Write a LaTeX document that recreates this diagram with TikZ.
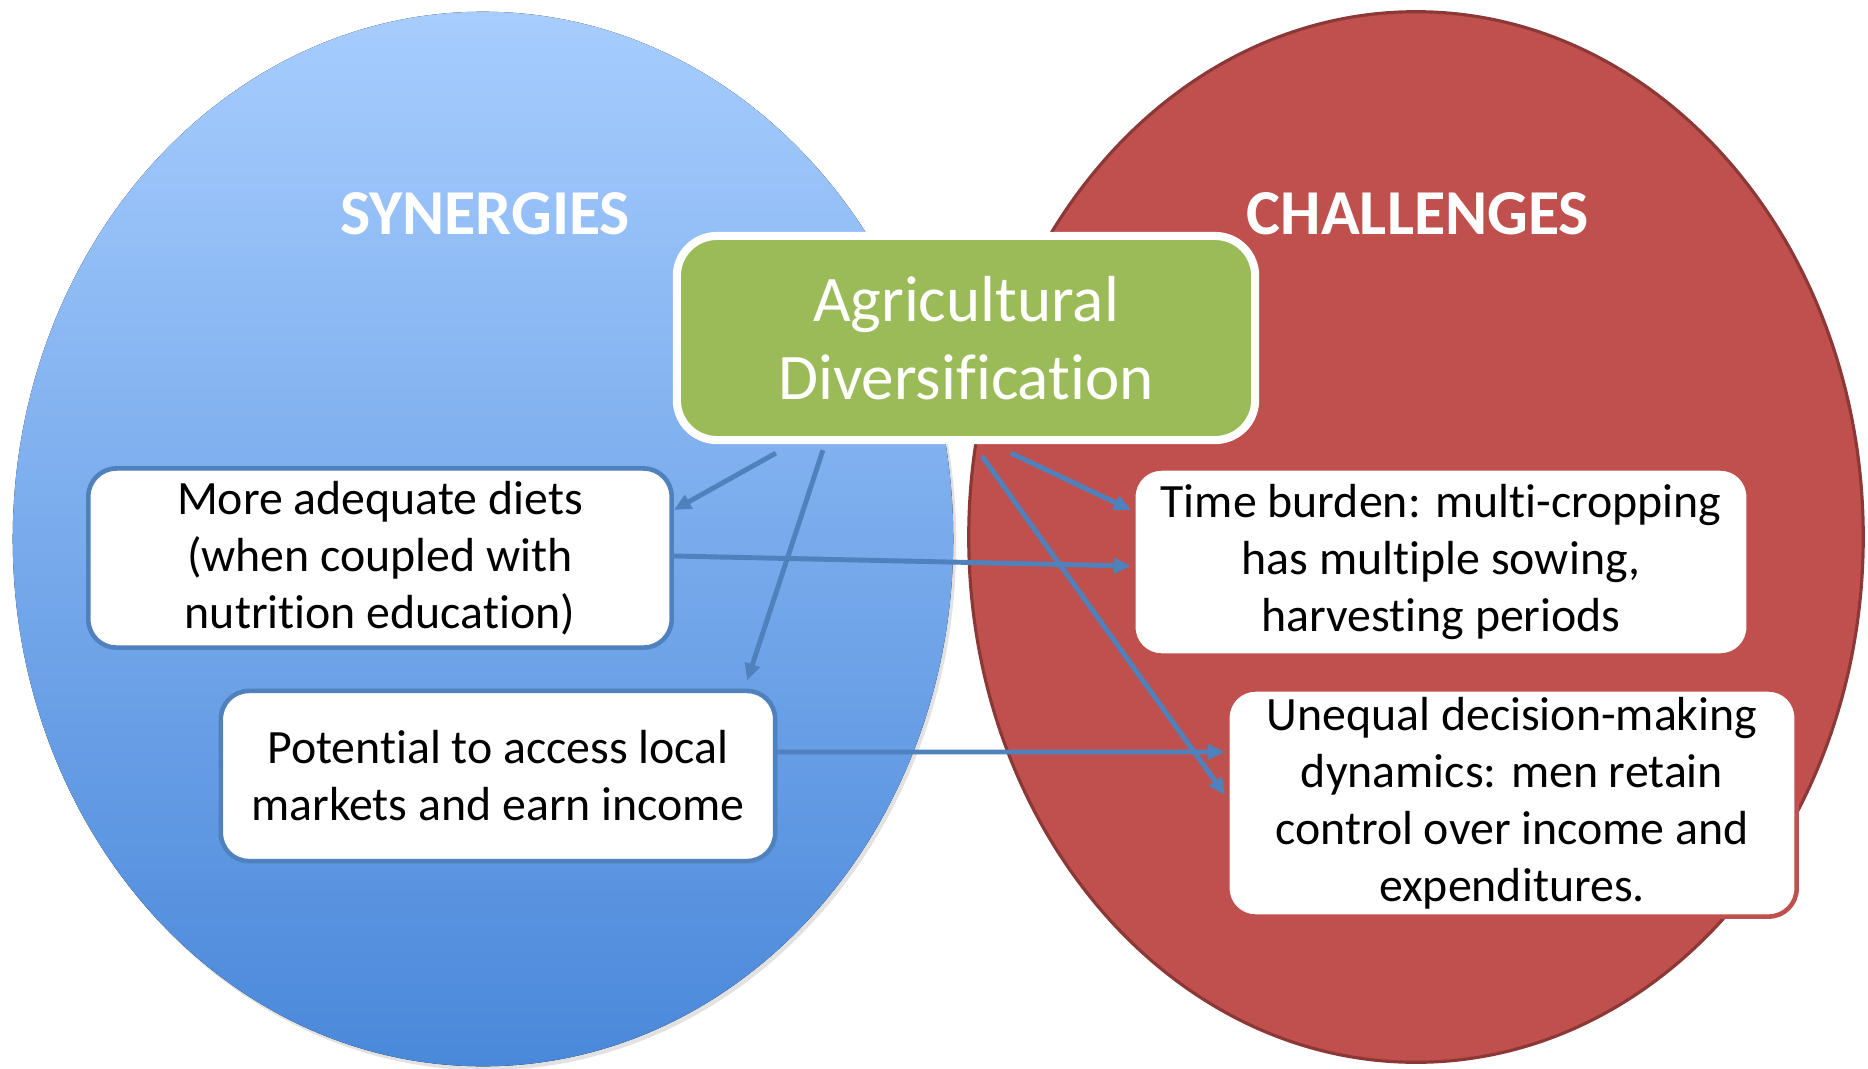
\documentclass[tikz,border=0pt]{standalone}
\usepackage{fontspec}
\setmainfont{Carlito}[RawFeature={-liga;-clig;-calt;-dlig;-rlig}]
\usetikzlibrary{arrows.meta}
\definecolor{skytop}{HTML}{A7CDFE}
\definecolor{skybot}{HTML}{4A88DA}
\definecolor{brick}{HTML}{C0504D}
\definecolor{brickdark}{HTML}{8C3836}
\definecolor{leaf}{HTML}{9BBB59}
\definecolor{steel}{HTML}{4F81BD}
\tikzset{every node/.style={inner sep=0pt, align=center}}
\tikzset{title/.style={text=white, font=\bfseries\fontsize{18.2}{20}\selectfont},
  synbox/.style={fill=white, draw=steel, line width=1.3pt, rounded corners=0.28cm, font=\fontsize{13.6}{16.2}\selectfont},
  chalbox/.style={synbox, draw=brick},
  link/.style={steel, line width=1.4pt, -{Triangle[length=0.17cm,width=0.15cm]}}}

\begin{document}
\begin{tikzpicture}[x=0.01cm,y=-0.01cm]
   \useasboundingbox (0,0) rectangle (1868,1069);
   % the two fields
   \fill[gray!45,opacity=0.5] (486,543) ellipse [x radius=4.70cm, y radius=5.27cm];
   \fill[top color=skytop, bottom color=skybot] (483,539) ellipse [x radius=4.70cm, y radius=5.27cm];
   \draw[brickdark, fill=brick, line width=0.9pt] (1416,537) ellipse [x radius=4.47cm, y radius=5.25cm];
   \node[title] (syn) at (485,214) {SYNERGIES};
   \node[title] (chal) at (1418,214) {CHALLENGES};
   % centre box
   \node[fill=leaf, draw=white, line width=2.3pt, rounded corners=0.4cm,
         minimum width=5.78cm, minimum height=2.04cm, text=white,
         font=\fontsize{18.5}{22.2}\selectfont] (agri) at (966,338) {Agricultural\\Diversification};
   % synergies
   \node[synbox, minimum width=5.83cm, minimum height=1.79cm] (diets) at (380,558)
        {More adequate diets\\(when coupled with\\nutrition education)};
   \node[synbox, minimum width=5.54cm, minimum height=1.70cm] (market) at (498,776)
        {Potential to access local\\markets and earn income};
   % challenges
   \node[chalbox, minimum width=6.15cm, minimum height=1.87cm] (time) at (1441,562)
        {Time burden: multi-cropping\\has multiple sowing,\\harvesting periods};
   \node[chalbox, minimum width=5.69cm, minimum height=2.27cm] (unequal) at (1512,803)
        {Unequal decision-making\\dynamics: men retain\\control over income and\\expenditures.};
   % links
   \draw[link] ([xshift=-1.9cm,yshift=-0.09cm]agri.south) -- ([yshift=0.48cm]diets.east);
   \draw[link] ([xshift=-1.43cm,yshift=-0.06cm]agri.south) -- ([xshift=2.49cm,yshift=0.08cm]market.north);
   \draw[link] ([yshift=0.02cm]diets.east) -- ([yshift=-0.04cm]time.west);
   \draw[link] ([xshift=0.45cm,yshift=-0.09cm]agri.south) -- ([yshift=0.52cm]time.west);
   \draw[link] ([xshift=0.16cm,yshift=-0.12cm]agri.south) -- ([yshift=0.08cm]unequal.west);
   \draw[link] ([yshift=0.24cm]market.east) -- ([yshift=0.51cm]unequal.west);
\end{tikzpicture}
\end{document}
